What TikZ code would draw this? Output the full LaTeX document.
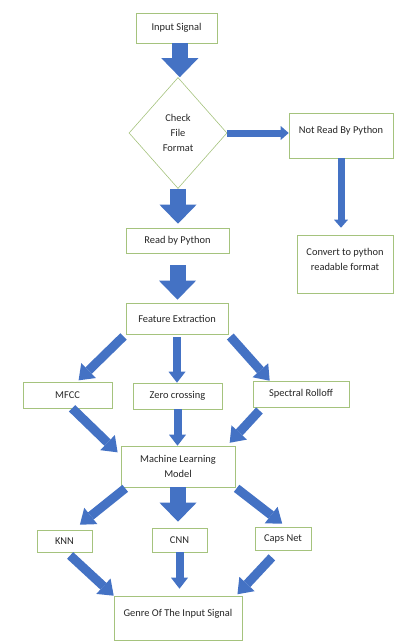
\documentclass[tikz,border=0pt]{standalone}
\usepackage{fontspec}
\setmainfont{Carlito}
\usetikzlibrary{arrows.meta,shapes.geometric,scopes}
\definecolor{boxgreen}{RGB}{165,195,125}
\definecolor{flowblue}{RGB}{68,114,196}

\begin{document}
\begin{tikzpicture}[
    x=0.3mm, y=-0.3mm,
    every node/.style={font=\fontsize{8.9}{12.8}\selectfont,text=black!85},
    b/.style={rectangle,draw=boxgreen,fill=white,line width=0.5pt,inner sep=0pt,align=center},
    d/.style={diamond,draw=boxgreen,fill=white,line width=0.5pt,inner sep=0pt,align=center},
    fat/.style={draw=flowblue,line width=4.8mm,-{Triangle[width=11.1mm,length=5.7mm,line width=0pt]}},
    diag/.style={draw=flowblue,line width=2.7mm,-{Triangle[width=6.3mm,length=4.2mm,line width=0pt]}},
    thin/.style={draw=flowblue,line width=2.4mm,-{Triangle[width=5.1mm,length=3.3mm,line width=0pt]}},
    side/.style={draw=flowblue,line width=2.1mm,-{Triangle[width=4.2mm,length=2.4mm,line width=0pt]}},
]
    \useasboundingbox (0,0) rectangle (415,643);
    \node[b,minimum width=24.3mm,minimum height=9mm] (inp) at (176.5,28) {Input Signal};
    \node[d,minimum width=29.4mm,minimum height=33.3mm] (chk) at (178,133) {Check\\File\\Format};
    \node[b,minimum width=31.2mm,minimum height=13.5mm,text depth=3.4mm] (nrp) at (341,135.5) {Not Read By Python};
    \node[b,minimum width=28.8mm,minimum height=17.4mm,text depth=2.8mm] (conv) at (345,264) {Convert to python\\readable format};
    \node[b,minimum width=30.9mm,minimum height=7.5mm] (rbp) at (177.5,240.5) {Read by Python};
    \node[b,minimum width=30.6mm,minimum height=9.3mm] (fe) at (177,318.5) {Feature Extraction};
    \node[b,minimum width=26.7mm,minimum height=7.8mm] (mfcc) at (67.5,395) {MFCC};
    \node[b,minimum width=26.7mm,minimum height=7.8mm] (zc) at (177.5,396) {Zero crossing};
    \node[b,minimum width=28.8mm,minimum height=7.8mm] (sr) at (301,394) {Spectral Rolloff};
    \node[b,minimum width=34.2mm,minimum height=12.3mm] (ml) at (178,466.5) {Machine Learning\\Model};
    \node[b,minimum width=16.5mm,minimum height=6.6mm] (knn) at (64.5,541) {KNN};
    \node[b,minimum width=16.5mm,minimum height=7.2mm] (cnn) at (179.5,540) {CNN};
    \node[b,minimum width=16.8mm,minimum height=6.9mm] (caps) at (283,538.5) {Caps Net};
    \node[b,minimum width=38.4mm,minimum height=13.2mm,text depth=3.1mm] (gen) at (178,618) {Genre Of The Input Signal};
    {[fat]
        \draw ([xshift=1mm]inp.south) -- ([xshift=1mm]inp.south |- chk.north);
        \draw[shorten >=1.2mm] (chk.south) -- (chk.south |- rbp.north);
        \draw[shorten <=3.6mm,shorten >=0.9mm] (rbp.south) -- (rbp.south |- fe.north);
        \draw[shorten >=1.8mm] (ml.south) -- (ml.south |- cnn.north);
    }
    {[side]
        \draw (chk.east) -- (chk.east -| nrp.west);
        \draw[shorten >=2.1mm] (nrp.south) -- (nrp.south |- conv.north);
    }
    {[thin]
        \draw[shorten <=0.9mm] (fe.south) -- (fe.south |- zc.north);
        \draw (zc.south) -- (zc.south |- ml.north);
        \draw[shorten >=2.1mm] (cnn.south) -- (cnn.south |- gen.north);
    }
    {[diag]
        \draw[shorten <=0.9mm,shorten >=0.6mm] (fe.south west) -- (mfcc.54);
        \draw[shorten <=0.9mm] (fe.south east) -- (sr.157);
        \draw[shorten >=1.3mm] (mfcc.289) -- (ml.169);
        \draw[shorten <=1.3mm,shorten >=1.2mm] (sr.199) -- (ml.23);
        \draw[shorten <=0.5mm,shorten >=2.4mm] (ml.202) -- (knn.51);
        \draw[shorten <=0.5mm,shorten >=1.5mm] (ml.south east) -- (caps.75);
        \draw[shorten <=1.4mm] (knn.281) -- (gen.north west);
        \draw[shorten <=2.9mm,shorten >=0.6mm] (caps.249) -- (gen.21);
    }
\end{tikzpicture}
\end{document}
